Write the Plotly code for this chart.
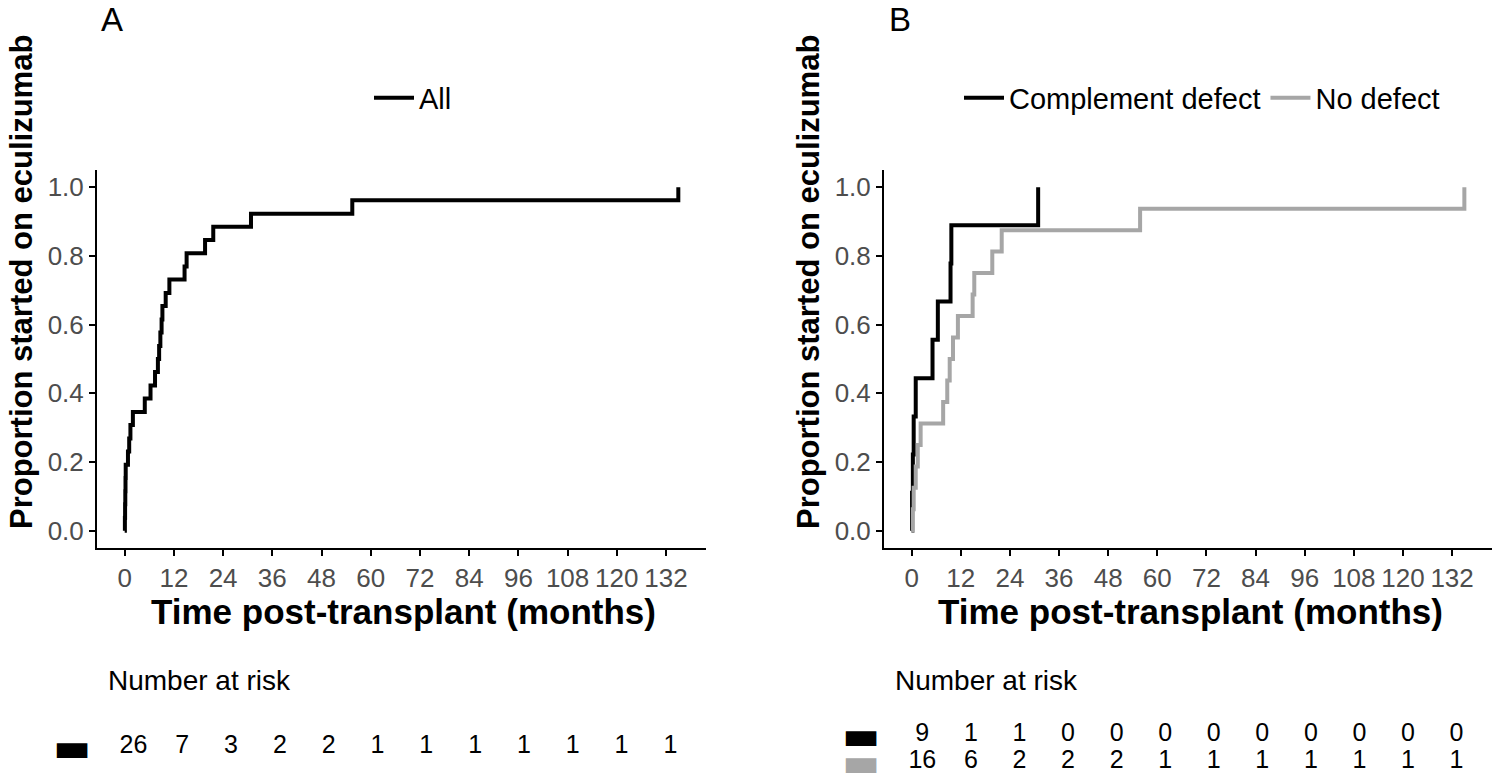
import plotly.graph_objects as go

# ---- data ----
# panel A: all patients (cumulative proportion started on eculizumab)
all_months = [0, 0.05, 0.1, 0.15, 0.2, 0.25, 0.8, 1.1, 1.4, 2.0, 4.9, 6.3, 7.4,
              8.1, 8.4, 8.7, 9.0, 9.2, 10.0, 10.9, 14.6, 15.1, 19.6, 21.6,
              30.8, 55.5, 135]
all_prop = [0, 0.038, 0.077, 0.115, 0.154, 0.192, 0.231, 0.269, 0.308, 0.346,
            0.385, 0.423, 0.462, 0.5, 0.538, 0.577, 0.615, 0.654, 0.692,
            0.731, 0.769, 0.808, 0.846, 0.885, 0.923, 0.962, 1.0]

# panel B: by complement status
defect_months = [0, 0.1, 0.3, 0.5, 1.0, 5.1, 6.4, 9.5, 9.7, 30.9]
defect_prop = [0, 0.111, 0.222, 0.333, 0.444, 0.556, 0.667, 0.778, 0.889, 1.0]

nodefect_months = [0, 0.3, 0.5, 1.0, 1.5, 2.2, 7.7, 8.7, 9.3, 10.1, 11.3,
                   14.9, 15.3, 19.7, 22.0, 55.8, 135]
nodefect_prop = [0, 0.0625, 0.125, 0.1875, 0.25, 0.3125, 0.375, 0.4375, 0.5,
                 0.5625, 0.625, 0.6875, 0.75, 0.8125, 0.875, 0.9375, 1.0]

# number at risk table
risk_months = [0, 12, 24, 36, 48, 60, 72, 84, 96, 108, 120, 132]
risk_all = [26, 7, 3, 2, 2, 1, 1, 1, 1, 1, 1, 1]
risk_defect = [9, 1, 1, 0, 0, 0, 0, 0, 0, 0, 0, 0]
risk_nodefect = [16, 6, 2, 2, 2, 1, 1, 1, 1, 1, 1, 1]

BLACK = "#000000"
GREY = "#A6A6A6"
FONT = "Liberation Sans, Arial, sans-serif"
W, H = 1500, 775

fig = go.Figure()

fig.add_trace(go.Scatter(x=all_months, y=all_prop, mode="lines", name="All",
                         line=dict(color=BLACK, width=4, shape="hv"),
                         xaxis="x", yaxis="y", legend="legend"))
fig.add_trace(go.Scatter(x=defect_months, y=defect_prop, mode="lines",
                         name="Complement defect",
                         line=dict(color=BLACK, width=4, shape="hv"),
                         xaxis="x2", yaxis="y2", legend="legend2"))
fig.add_trace(go.Scatter(x=nodefect_months, y=nodefect_prop, mode="lines",
                         name="No defect",
                         line=dict(color=GREY, width=4, shape="hv"),
                         xaxis="x2", yaxis="y2", legend="legend2"))

# risk tables, one axis pair per row so each row gets its own colour key
risk_font = dict(size=25, color=BLACK, family=FONT)
for counts, ax in [(risk_all, "3"), (risk_defect, "4"), (risk_nodefect, "5")]:
    fig.add_trace(go.Scatter(x=risk_months, y=[0.5] * len(risk_months),
                             mode="text", text=[str(v) for v in counts],
                             showlegend=False, textfont=risk_font,
                             xaxis="x" + ax, yaxis="y" + ax))


def px_x(p):
    return p / W


def px_y(p):
    return 1 - p / H


def key(color):
    return f'<span style="color:{color}">▬</span>'


main_x = dict(range=[-6.75, 141.75], tickvals=risk_months, tickangle=0,
              showline=True, linecolor=BLACK, linewidth=2, ticks="outside",
              ticklen=6, tickwidth=2, tickcolor=BLACK, showgrid=False,
              zeroline=False, automargin=False,
              tickfont=dict(size=26, color="#4D4D4D", family=FONT))
main_y = dict(range=[-0.05, 1.05], tickvals=[0, 0.2, 0.4, 0.6, 0.8, 1.0],
              tickformat=".1f", showline=True, linecolor=BLACK, linewidth=2,
              ticks="outside", ticklen=6, tickwidth=2, tickcolor=BLACK,
              showgrid=False, zeroline=False, automargin=False,
              domain=[px_y(548), px_y(170)],
              tickfont=dict(size=26, color="#4D4D4D", family=FONT))
risk_x = dict(range=[-6.75, 141.75], visible=False, automargin=False)
# the colour keys are the y tick labels; let them spill past the div edge
risk_y = dict(range=[0, 1], showgrid=False, zeroline=False, showline=False,
              ticks="", tickvals=[0.5], ticklabelstandoff=14,
              automargin=False, ticklabeloverflow="allow",
              tickfont=dict(size=40, family="DejaVu Sans"))

fig.update_layout(
    width=W, height=H,
    margin=dict(l=0, r=0, t=0, b=0),
    paper_bgcolor="white", plot_bgcolor="white",
    font=dict(family=FONT, color=BLACK),
    xaxis=dict(main_x, domain=[px_x(97), px_x(706)], anchor="y"),
    yaxis=dict(main_y, anchor="x"),
    xaxis2=dict(main_x, domain=[px_x(884), px_x(1492)], anchor="y2"),
    yaxis2=dict(main_y, anchor="x2"),
    xaxis3=dict(risk_x, domain=[px_x(106), px_x(710)], anchor="y3"),
    yaxis3=dict(risk_y, anchor="x3", domain=[px_y(760), px_y(734)],
                ticktext=[key(BLACK)]),
    xaxis4=dict(risk_x, domain=[px_x(895), px_x(1496)], anchor="y4"),
    yaxis4=dict(risk_y, anchor="x4", domain=[px_y(748), px_y(722)],
                ticktext=[key(BLACK)]),
    xaxis5=dict(risk_x, domain=[px_x(895), px_x(1496)], anchor="y5"),
    yaxis5=dict(risk_y, anchor="x5", domain=[px_y(775), px_y(749)],
                ticktext=[key(GREY)]),
    legend=dict(orientation="h", x=px_x(413), y=px_y(98), xanchor="center",
                yanchor="middle", font=dict(size=29, family=FONT),
                itemwidth=40, bgcolor="rgba(0,0,0,0)"),
    legend2=dict(orientation="h", x=px_x(1202), y=px_y(98), xanchor="center",
                 yanchor="middle", font=dict(size=29, family=FONT),
                 itemwidth=40, bgcolor="rgba(0,0,0,0)"),
)

annots = [
    dict(text="A", x=px_x(99), y=px_y(19), xanchor="left", font_size=33),
    dict(text="B", x=px_x(887), y=px_y(19), xanchor="left", font_size=33),
    dict(text="<b>Time post-transplant (months)</b>", x=px_x(403),
         y=px_y(611), font_size=35),
    dict(text="<b>Time post-transplant (months)</b>", x=px_x(1190),
         y=px_y(611), font_size=35),
    dict(text="<b>Proportion started on eculizumab</b>", x=px_x(21),
         y=px_y(282), textangle=-90, font_size=31),
    dict(text="<b>Proportion started on eculizumab</b>", x=px_x(808),
         y=px_y(282), textangle=-90, font_size=31),
    dict(text="Number at risk", x=px_x(106), y=px_y(680), xanchor="left",
         font_size=28),
    dict(text="Number at risk", x=px_x(893), y=px_y(680), xanchor="left",
         font_size=28),
]
for a in annots:
    fig.add_annotation(xref="paper", yref="paper", showarrow=False,
                       xanchor=a.pop("xanchor", "center"), yanchor="middle",
                       **a)

# drop the browser's default page margin so the figure sits at the corner
fig.write_html("out.html", config={"displayModeBar": False},
               post_script="document.body.style.margin='0';"
                           "document.body.style.overflow='hidden';")
